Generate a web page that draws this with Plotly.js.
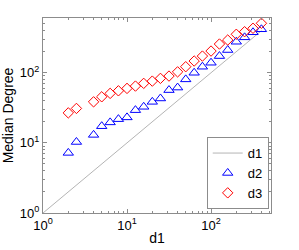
<!DOCTYPE html>
<html>
<head>
<meta charset="utf-8">
<script src="https://cdn.plot.ly/plotly-3.0.1.min.js"></script>
<style>html,body{margin:0;padding:0;background:#fff;}#chart{width:299px;height:250px;}</style>
</head>
<body>
<div id="chart"></div>
<script>
var d1Values = [1, 2, 2.5, 4, 5, 6.3, 7.9, 10, 12.6, 15.8, 20, 25, 31.6, 40, 50, 63, 79, 100, 126, 158, 200, 251, 316, 398];
var xValues = [2, 2.5, 4, 5, 6.3, 7.9, 10, 12.6, 15.8, 20, 25, 31.6, 40, 50, 63, 79, 100, 126, 158, 200, 251, 316, 398];
var d2Values = [7.2, 10.3, 13, 17.3, 19.6, 21.8, 23.1, 29.3, 32.7, 38.5, 43, 56.6, 61.5, 80.5, 100, 122, 139, 173, 211, 277, 320, 378, 417];
var d3Values = [26.8, 31, 38.5, 45.4, 50.8, 55.3, 59.8, 64.6, 70.6, 76, 83.2, 89.7, 103, 122, 147, 173, 204, 257, 293, 354, 385, 431, 508];
var tickValues = [1, 10, 100];
var tickLabels = ['10<sup>0</sup>', '10<sup>1</sup>', '10<sup>2</sup>'];

var traces = [
  {x: d1Values, y: d1Values, name: 'd1', mode: 'lines', type: 'scatter',
   line: {color: '#b4b4b4', width: 1}},
  {x: xValues, y: d2Values, name: 'd2', mode: 'markers', type: 'scatter',
   marker: {symbol: 'triangle-up-open', size: 9, color: '#0000ff', line: {width: 1, color: '#0000ff'}}},
  {x: xValues, y: d3Values, name: 'd3', mode: 'markers', type: 'scatter',
   marker: {symbol: 'diamond-open', size: 8, color: '#ff0000', line: {width: 1, color: '#ff0000'}}}
];

var axisCommon = {
  type: 'log',
  showgrid: false,
  zeroline: false,
  showline: true,
  linecolor: '#8c8c8c',
  linewidth: 1,
  mirror: 'ticks',
  ticks: 'inside',
  ticklen: 4,
  tickcolor: '#8c8c8c',
  tickmode: 'array',
  tickvals: tickValues,
  ticktext: tickLabels,
  tickfont: {family: 'Liberation Sans, Arial, sans-serif', size: 13, color: '#000'},
  minor: {ticks: 'inside', ticklen: 2, tickcolor: '#8c8c8c', dtick: 'D1', showgrid: false}
};

var layout = {
  width: 299, height: 250,
  margin: {l: 43, r: 28, t: 18, b: 37},
  paper_bgcolor: '#fff', plot_bgcolor: '#fff',
  showlegend: true,
  font: {family: 'Liberation Sans, Arial, sans-serif', color: '#000'},
  xaxis: Object.assign({}, axisCommon, {
    range: [0, 2.714],
    title: {text: 'd1', font: {size: 14}, standoff: 1}
  }),
  yaxis: Object.assign({}, axisCommon, {
    range: [0, 2.781],
    title: {text: 'Median Degree', font: {size: 14}, standoff: 2}
  }),
  legend: {
    x: 0.99, y: 0.02, xanchor: 'right', yanchor: 'bottom',
    bgcolor: '#fff', bordercolor: '#8c8c8c', borderwidth: 1,
    font: {size: 13}, itemwidth: 30, tracegroupgap: 0
  }
};

Plotly.newPlot('chart', traces, layout, {staticPlot: true, displayModeBar: false});
</script>
</body>
</html>
